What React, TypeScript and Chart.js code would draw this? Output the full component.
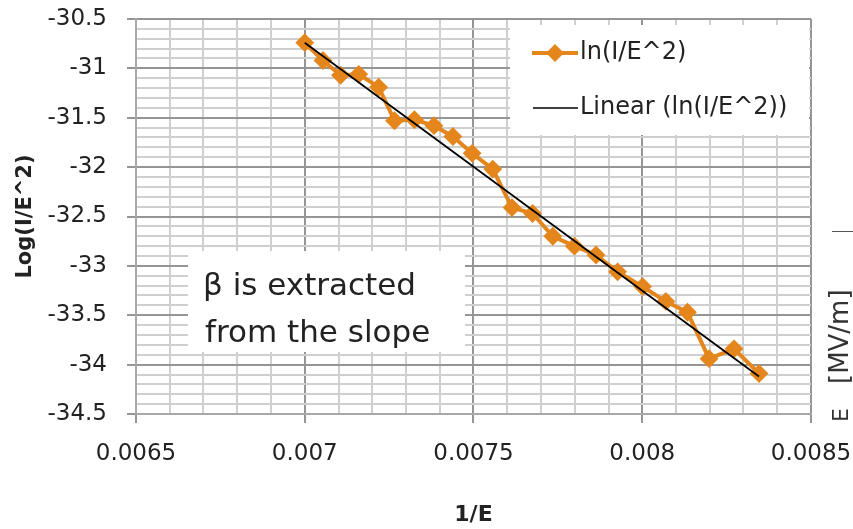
import React, { useEffect, useRef } from 'react';
import { Chart, registerables } from 'chart.js';

Chart.register(...registerables);

// ---- data ----
const invE = [
  0.007, 0.007054, 0.007106, 0.00716, 0.007219, 0.007266, 0.007325, 0.007383,
  0.007439, 0.007496, 0.007557, 0.007614, 0.007675, 0.007735, 0.007799,
  0.007863, 0.007927, 0.008001, 0.00807, 0.008134, 0.008198, 0.008272, 0.008346,
];
const lnIE2 = [
  -30.74, -30.92, -31.07, -31.06, -31.19, -31.53, -31.52, -31.58, -31.69,
  -31.86, -32.02, -32.41, -32.47, -32.7, -32.8, -32.89, -33.06, -33.21,
  -33.36, -33.47, -33.94, -33.84, -34.09,
];
const trendX = [0.007, 0.008346];
const trendY = [-30.74, -34.12];

const seriesLabel = 'ln(I/E^2)';
const trendLabel = 'Linear (ln(I/E^2))';
const xTitle = '1/E';
const yTitle = 'Log(I/E^2)';
const noteLines = ['β is extracted', 'from the slope'];
const sideLabelParts = ['E', '[MV/m]'];

const xMin = 0.0065;
const xMax = 0.0085;
const xMajor = 0.0005;
const xMinor = 0.0001;
const yMin = -34.5;
const yMax = -30.5;
const yMajor = 0.5;
const yMinor = 0.1;

// ---- styles ----
const ORANGE = '#E4861C';
const MAJOR = '#959595';
const MINOR = '#cfcfcf';
const AXIS = '#a8a8a8';
const TEXT = '#222222';
const FONT = "'DejaVu Sans', sans-serif";

const isMajor = (v: number, step: number) =>
  Math.abs(v / step - Math.round(v / step)) < 1e-6;

const overlayPlugin = {
  id: 'overlay',
  beforeDatasetsDraw(chart: any) {
    const { ctx, chartArea } = chart;
    const L = chartArea.left;
    const T = chartArea.top;
    ctx.save();
    // legend box
    ctx.fillStyle = '#ffffff';
    ctx.fillRect(L + 374, T + 6, chartArea.right - (L + 374) - 2, 110);
    // note box
    ctx.fillRect(L + 52, T + 232, 277, 101);

    // legend entries
    const lx1 = L + 396;
    const lx2 = L + 442;
    const y1 = T + 34;
    const y2 = T + 89;
    ctx.strokeStyle = ORANGE;
    ctx.lineWidth = 4;
    ctx.beginPath();
    ctx.moveTo(lx1, y1);
    ctx.lineTo(lx2, y1);
    ctx.stroke();
    const cx = (lx1 + lx2) / 2;
    const r = 9;
    ctx.fillStyle = ORANGE;
    ctx.beginPath();
    ctx.moveTo(cx, y1 - r);
    ctx.lineTo(cx + r, y1);
    ctx.lineTo(cx, y1 + r);
    ctx.lineTo(cx - r, y1);
    ctx.closePath();
    ctx.fill();

    ctx.strokeStyle = '#000000';
    ctx.lineWidth = 1.5;
    ctx.beginPath();
    ctx.moveTo(lx1 + 1, y2);
    ctx.lineTo(lx2, y2);
    ctx.stroke();

    ctx.fillStyle = TEXT;
    ctx.font = `24px ${FONT}`;
    ctx.textAlign = 'left';
    ctx.textBaseline = 'middle';
    ctx.fillText(seriesLabel, lx2 + 2, y1);
    ctx.fillText(trendLabel, lx2 + 2, y2);

    // note text
    ctx.font = `31px ${FONT}`;
    ctx.textBaseline = 'alphabetic';
    ctx.fillText(noteLines[0], L + 67, T + 276);
    ctx.fillText(noteLines[1], L + 69, T + 323);
    ctx.restore();
  },
  afterDraw(chart: any) {
    const { ctx } = chart;
    ctx.save();
    // fragment of the neighbouring chart at the right edge
    ctx.strokeStyle = '#555555';
    ctx.lineWidth = 1;
    ctx.beginPath();
    ctx.moveTo(832, 231.5);
    ctx.lineTo(853, 231.5);
    ctx.stroke();
    ctx.translate(848, 422);
    ctx.rotate(-Math.PI / 2);
    ctx.fillStyle = '#333333';
    ctx.font = `22px ${FONT}`;
    ctx.textAlign = 'left';
    ctx.textBaseline = 'alphabetic';
    ctx.fillText(sideLabelParts[0], 0, 0);
    ctx.font = `26px ${FONT}`;
    ctx.fillText(sideLabelParts[1], 38, 0);
    ctx.restore();
  },
};

export default function App() {
  const ref = useRef<HTMLCanvasElement | null>(null);

  useEffect(() => {
    if (!ref.current) return;
    const chart = new Chart(ref.current, {
      type: 'scatter',
      data: {
        datasets: [
          {
            label: trendLabel,
            data: trendX.map((x, i) => ({ x, y: trendY[i] })),
            showLine: true,
            borderColor: '#000000',
            borderWidth: 1.75,
            pointRadius: 0,
            order: 0,
          },
          {
            label: seriesLabel,
            data: invE.map((x, i) => ({ x, y: lnIE2[i] })),
            showLine: true,
            borderColor: ORANGE,
            backgroundColor: ORANGE,
            borderWidth: 4,
            pointStyle: 'rectRot',
            pointRadius: 8,
            pointBorderWidth: 2,
            pointBorderColor: ORANGE,
            pointBackgroundColor: ORANGE,
            order: 1,
          },
        ],
      },
      options: {
        animation: false,
        responsive: false,
        events: [],
        layout: { padding: { top: 19, right: 42, left: 0, bottom: 0 } },
        plugins: {
          legend: { display: false },
          tooltip: { enabled: false },
        },
        scales: {
          x: {
            type: 'linear',
            min: xMin,
            max: xMax,
            afterFit: (s: any) => {
              s.height = 115;
              s.paddingLeft = 0;
              s.paddingRight = 0;
            },
            ticks: {
              stepSize: xMinor,
              autoSkip: false,
              maxRotation: 0,
              minRotation: 0,
              padding: 17,
              color: TEXT,
              font: { family: FONT, size: 23 },
              callback: (v: any) =>
                isMajor(Number(v), xMajor) ? String(Number(Number(v).toFixed(4))) : '',
            },
            grid: {
              color: (c: any) => (c.tick && isMajor(c.tick.value, xMajor) ? MAJOR : MINOR),
              lineWidth: 2,
              tickLength: 9,
              tickColor: (c: any) =>
                c.tick && isMajor(c.tick.value, xMajor) ? MAJOR : 'rgba(0,0,0,0)',
              tickWidth: 2,
            },
            border: { color: AXIS, width: 2 },
            title: {
              display: true,
              text: xTitle,
              color: TEXT,
              font: { family: FONT, size: 22, weight: 'bold' },
              padding: { top: 0, bottom: 1 },
            },
          },
          y: {
            type: 'linear',
            min: yMin,
            max: yMax,
            afterFit: (s: any) => {
              s.width = 136;
              s.paddingTop = 0;
              s.paddingBottom = 0;
            },
            ticks: {
              stepSize: yMinor,
              autoSkip: false,
              padding: 20,
              color: TEXT,
              font: { family: FONT, size: 23 },
              callback: (v: any) =>
                isMajor(Number(v), yMajor) ? String(Number(Number(v).toFixed(1))) : '',
            },
            grid: {
              color: (c: any) => (c.tick && isMajor(c.tick.value, yMajor) ? MAJOR : MINOR),
              lineWidth: 2,
              tickLength: 9,
              tickColor: (c: any) =>
                c.tick && isMajor(c.tick.value, yMajor) ? MAJOR : 'rgba(0,0,0,0)',
              tickWidth: 2,
            },
            border: { color: AXIS, width: 2 },
            title: {
              display: true,
              text: yTitle,
              color: TEXT,
              font: { family: FONT, size: 21, weight: 'bold' },
              padding: { top: 13, bottom: 0 },
            },
          },
        },
      },
      plugins: [overlayPlugin],
    } as any);
    return () => chart.destroy();
  }, []);

  return (
    <div style={{ position: 'fixed', left: 0, top: 0, width: 853, height: 529, background: '#fff' }}>
      <canvas ref={ref} width={853} height={529} style={{ display: 'block' }} />
    </div>
  );
}
